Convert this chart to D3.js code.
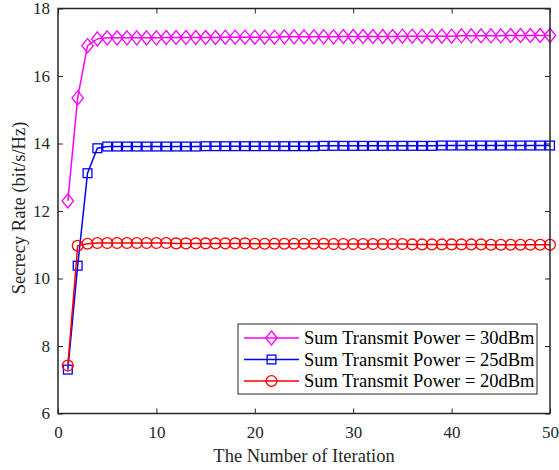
<!DOCTYPE html>
<html>
<head>
<meta charset="utf-8">
<script src="https://cdn.jsdelivr.net/npm/d3@7"></script>
<style>
  body { margin: 0; background: #fff; }
  text { font-family: "Liberation Serif", "Times New Roman", serif; }
</style>
</head>
<body>
<div id="chart"></div>
<script>
// iterations 1..50
const iterations = d3.range(1, 51);

const power30 = [12.3, 15.35, 16.9, 17.1,
  17.13, 17.13, 17.13, 17.13, 17.13, 17.13,
  17.14, 17.14, 17.14, 17.14, 17.14, 17.14,
  17.15, 17.15, 17.15, 17.15, 17.15, 17.15,
  17.16, 17.16, 17.16, 17.16, 17.16, 17.16,
  17.17, 17.17, 17.17, 17.17, 17.17, 17.17,
  17.18, 17.18, 17.18, 17.18, 17.18, 17.18,
  17.19, 17.19, 17.19, 17.19, 17.19,
  17.2, 17.2, 17.2, 17.2, 17.2];

const power25 = [7.3, 10.38, 13.12, 13.86,
  13.91, 13.91, 13.91, 13.91, 13.91, 13.91, 13.91, 13.91, 13.91, 13.91,
  13.92, 13.92, 13.92, 13.92, 13.92, 13.92, 13.92, 13.92, 13.92, 13.92, 13.92, 13.92,
  13.93, 13.93, 13.93, 13.93, 13.93, 13.93, 13.93, 13.93, 13.93, 13.93, 13.93, 13.93,
  13.94, 13.94, 13.94, 13.94, 13.94, 13.94, 13.94, 13.94, 13.94, 13.94, 13.94, 13.94];

const power20 = [7.42, 10.97, 11.03,
  11.05, 11.05, 11.05, 11.05, 11.05, 11.05, 11.05, 11.05,
  11.04, 11.04, 11.04, 11.04, 11.04, 11.04, 11.04, 11.04,
  11.03, 11.03, 11.03, 11.03, 11.03, 11.03, 11.03, 11.03,
  11.02, 11.02, 11.02, 11.02, 11.02, 11.02, 11.02, 11.02,
  11.01, 11.01, 11.01, 11.01, 11.01, 11.01, 11.01, 11.01,
  11.0, 11.0, 11.0, 11.0, 11.0, 11.0, 11.0];

const seriesNames = ["Sum Transmit Power = 30dBm", "Sum Transmit Power = 25dBm", "Sum Transmit Power = 20dBm"];
const seriesColors = ["#ff00ff", "#0000ff", "#ff0000"];
const seriesMarkers = ["diamond", "square", "circle"];
const xTicks = [0, 10, 20, 30, 40, 50];
const yTicks = [6, 8, 10, 12, 14, 16, 18];

const series = [power30, power25, power20].map((vals, i) => ({
  name: seriesNames[i], color: seriesColors[i], marker: seriesMarkers[i],
  values: vals.map((v, j) => ({x: iterations[j], y: v}))
}));

// set the dimensions and margins of the graph
const margin = {top: 8.5, right: 9, bottom: 56.5, left: 58},
    width = 559 - margin.left - margin.right,
    height = 470 - margin.top - margin.bottom;

const svg = d3.select("#chart")
    .append("svg")
    .attr("width", 559)
    .attr("height", 470)
    .append("g")
    .attr("transform", "translate(" + margin.left + "," + margin.top + ")");

const x = d3.scaleLinear().domain([0, 50]).range([0, width]);
const y = d3.scaleLinear().domain([6, 18]).range([height, 0]);

const axisColor = "#262626";

// marker shapes
function drawMarker(g, type, color) {
  if (type === "diamond") {
    g.append("path").attr("d", "M0,-7L5.7,0L0,7L-5.7,0Z");
  } else if (type === "square") {
    g.append("rect").attr("x", -4.4).attr("y", -4.4).attr("width", 8.8).attr("height", 8.8);
  } else {
    g.append("circle").attr("r", 5.4);
  }
  g.selectAll("*").attr("fill", "none").attr("stroke", color).attr("stroke-width", 1.3);
}

const line = d3.line().x(d => x(d.x)).y(d => y(d.y));

series.forEach(s => {
  svg.append("path")
      .datum(s.values)
      .attr("fill", "none")
      .attr("stroke", s.color)
      .attr("stroke-width", 1.5)
      .attr("d", line);
  svg.selectAll(null)
      .data(s.values)
      .enter()
      .append("g")
      .attr("transform", d => "translate(" + x(d.x) + "," + y(d.y) + ")")
      .each(function() { drawMarker(d3.select(this), s.marker, s.color); });
});

// axes, ticks pointing inward
function styleAxis(g) {
  g.select(".domain").remove();
  g.selectAll("line").attr("stroke", axisColor).attr("stroke-width", 1);
  g.selectAll("text").attr("fill", axisColor).style("font-size", "17px");
}

svg.append("g")
    .attr("transform", "translate(0," + height + ")")
    .call(d3.axisBottom(x).tickValues(xTicks).tickSize(-5).tickPadding(12.5))
    .call(styleAxis);
svg.append("g")
    .call(d3.axisTop(x).tickValues(xTicks).tickSize(-5).tickFormat(""))
    .call(styleAxis);
svg.append("g")
    .call(d3.axisLeft(y).tickValues(yTicks).tickSize(-5).tickPadding(8))
    .call(styleAxis);
svg.append("g")
    .attr("transform", "translate(" + width + ",0)")
    .call(d3.axisRight(y).tickValues(yTicks).tickSize(-5).tickFormat(""))
    .call(styleAxis);

// box
svg.append("rect")
    .attr("width", width)
    .attr("height", height)
    .attr("fill", "none")
    .attr("stroke", axisColor)
    .attr("stroke-width", 1.5);

// axis labels
svg.append("text")
    .attr("text-anchor", "middle")
    .attr("x", width / 2)
    .attr("y", height + 48)
    .attr("fill", axisColor)
    .style("font-size", "18.5px")
    .text("The Number of Iteration");

svg.append("text")
    .attr("text-anchor", "middle")
    .attr("transform", "rotate(-90)")
    .attr("x", -height / 2 + 3)
    .attr("y", -margin.left + 25)
    .attr("fill", axisColor)
    .style("font-size", "18.5px")
    .text("Secrecy Rate (bit/s/Hz)");

// legend
const legend = svg.append("g")
    .attr("transform", "translate(" + (238 - margin.left) + "," + (324 - margin.top) + ")");
legend.append("rect")
    .attr("width", 299)
    .attr("height", 70)
    .attr("fill", "#fff")
    .attr("stroke", axisColor)
    .attr("stroke-width", 1);

series.forEach((s, i) => {
  const row = legend.append("g").attr("transform", "translate(0," + (14 + i * 21.5) + ")");
  row.append("line")
      .attr("x1", 6).attr("x2", 61)
      .attr("stroke", s.color).attr("stroke-width", 1.5);
  const m = row.append("g").attr("transform", "translate(33.5,0)");
  drawMarker(m, s.marker, s.color);
  row.append("text")
      .attr("x", 66)
      .attr("y", 6)
      .attr("fill", "#000")
      .style("font-size", "18.5px")
      .text(s.name);
});
</script>
</body>
</html>
